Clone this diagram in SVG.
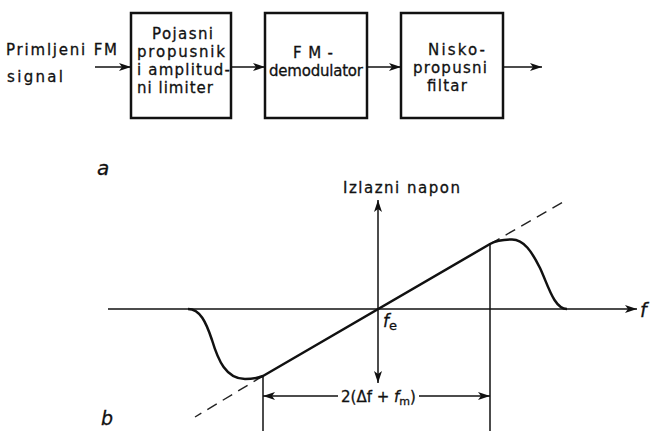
<svg xmlns="http://www.w3.org/2000/svg" width="651" height="431" viewBox="0 0 651 431">
<style>
text{font-family:"DejaVu Sans","Liberation Sans",sans-serif;font-size:15px;fill:#111;stroke:#111;stroke-width:0.3}
.box{fill:none;stroke:#111;stroke-width:2.5}
.ln{fill:none;stroke:#111;stroke-width:1.5}
.cv{fill:none;stroke:#111;stroke-width:2.5;stroke-linejoin:round}
.ds{fill:none;stroke:#222;stroke-width:1.4;stroke-dasharray:11 7}
.it{font-style:italic}
</style>
<defs>
<marker id="ah" viewBox="0 0 12 10" refX="12" refY="5" markerWidth="12" markerHeight="10" markerUnits="userSpaceOnUse" orient="auto-start-reverse">
<path d="M0,1 L12,5 L0,9 L3,5 Z" fill="#111"/>
</marker>
</defs>
<rect width="651" height="431" fill="#fff"/>
<g id="input-label">
<text x="6" y="55" textLength="111" lengthAdjust="spacing">Primljeni FM</text>
<text x="7" y="82" textLength="56" lengthAdjust="spacing">signal</text>
</g>
<g id="node-bandpass">
<rect class="box" x="131" y="13" width="100" height="105"/>
<text x="152" y="39" textLength="61" lengthAdjust="spacing">Pojasni</text>
<text x="137" y="57" textLength="88" lengthAdjust="spacing">propusnik</text>
<text x="137" y="75" textLength="93" lengthAdjust="spacing">i amplitud-</text>
<text x="137" y="93" textLength="76" lengthAdjust="spacing">ni limiter</text>
</g>
<g id="node-demod">
<rect class="box" x="265" y="13" width="102" height="105"/>
<text x="293" y="58" textLength="40" lengthAdjust="spacing">FM-</text>
<text x="269" y="76" textLength="94" lengthAdjust="spacing">demodulator</text>
</g>
<g id="node-lowpass">
<rect class="box" x="401" y="13" width="102" height="105"/>
<text x="428" y="55" textLength="57" lengthAdjust="spacing">Nisko-</text>
<text x="413" y="73" textLength="74" lengthAdjust="spacing">propusni</text>
<text x="427" y="91" textLength="40" lengthAdjust="spacing">filtar</text>
</g>
<g id="connectors">
<line class="ln" x1="95" y1="67" x2="131" y2="67" marker-end="url(#ah)"/>
<line class="ln" x1="231" y1="67" x2="265" y2="67" marker-end="url(#ah)"/>
<line class="ln" x1="367" y1="67" x2="401" y2="67" marker-end="url(#ah)"/>
<line class="ln" x1="503" y1="67" x2="542" y2="67" marker-end="url(#ah)"/>
</g>
<text class="it" x="97" y="175" style="font-size:20px">a</text>
<g id="graph">
<line class="ln" x1="108" y1="309" x2="637" y2="309" marker-end="url(#ah)"/>
<text class="it" x="640" y="317" style="font-size:19px">f</text>
<line class="ln" x1="378" y1="200" x2="378" y2="383" marker-start="url(#ah)" marker-end="url(#ah)"/>
<text x="343" y="193" textLength="117" lengthAdjust="spacing">Izlazni napon</text>
<line class="ds" x1="490" y1="244" x2="565" y2="201"/>
<line class="ds" x1="263" y1="376" x2="195" y2="417"/>
<path class="cv" d="M188,309 C200,309 206,322 212,340 C218,360 226,379 245,379 C252,379 256,379 263,376 L490,244 C497,240 504,239.5 512,239.5 C524,239.5 532,252 540,268 C548,285 554,309 567,309"/>
<line class="ln" x1="263" y1="376" x2="263" y2="431"/>
<line class="ln" x1="490" y1="244" x2="490" y2="431"/>
<line class="ln" x1="338" y1="396" x2="263" y2="396" marker-end="url(#ah)"/>
<line class="ln" x1="419" y1="396" x2="490" y2="396" marker-end="url(#ah)"/>
<text x="341" y="402">2(Δf + <tspan class="it">f</tspan><tspan style="font-size:11px" dy="3">m</tspan><tspan dy="-3">)</tspan></text>
<text x="383" y="327"><tspan class="it" style="font-size:17px">f</tspan><tspan style="font-size:13px" dy="3">e</tspan></text>
</g>
<text class="it" x="101" y="425" style="font-size:19px">b</text>
</svg>
